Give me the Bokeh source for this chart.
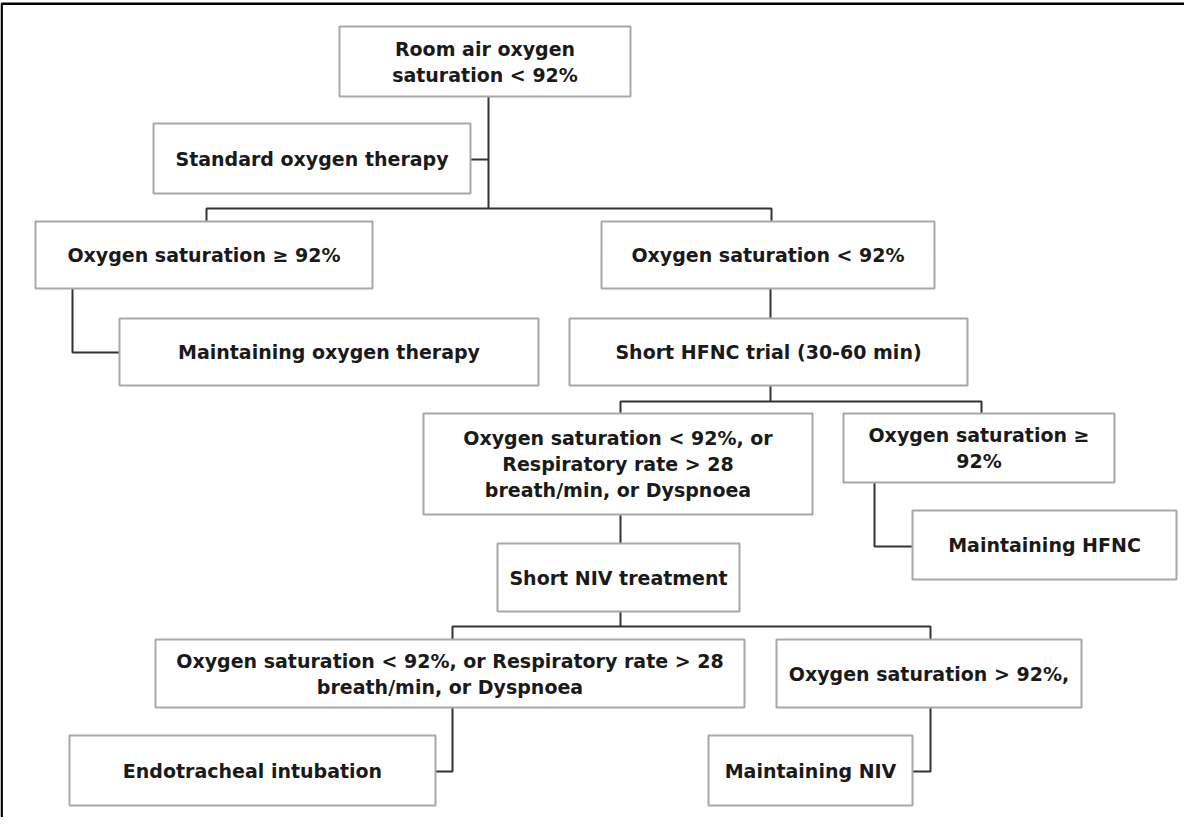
from bokeh.plotting import figure
from bokeh.models import Range1d, ColumnDataSource
from bokeh.core.properties import value
from bokeh.embed import file_html
from bokeh.resources import INLINE

# ---- data: flowchart nodes (label lines, box edges in picture pixels) ----
node_labels = [
    "Room air oxygen\nsaturation < 92%",
    "Standard oxygen therapy",
    "Oxygen saturation \u2265 92%",
    "Oxygen saturation < 92%",
    "Maintaining oxygen therapy",
    "Short HFNC trial (30-60 min)",
    "Oxygen saturation < 92%, or\nRespiratory rate > 28\nbreath/min, or Dyspnoea",
    "Oxygen saturation \u2265\n92%",
    "Maintaining HFNC",
    "Short NIV treatment",
    "Oxygen saturation < 92%, or Respiratory rate > 28\nbreath/min, or Dyspnoea",
    "Oxygen saturation > 92%,",
    "Endotracheal intubation",
    "Maintaining NIV",
]
node_left   = [347, 161, 43, 609, 127, 577, 431, 851, 920, 505, 163, 784, 77, 716]
node_right  = [638, 478, 380, 942, 546, 975, 820, 1122, 1184, 747, 752, 1089, 443, 920]
node_top    = [34, 131, 229, 229, 326, 326, 421, 421, 518, 551, 647, 647, 743, 743]
node_bottom = [104, 201, 296, 296, 393, 393, 522, 490, 587, 619, 715, 715, 813, 813]

# connectors as polylines (x list, y list)
conn_xs = [
    [496, 496], [478, 496],
    [214, 214, 779, 779],
    [80, 80, 127],
    [778, 778],
    [778, 778], [628, 628, 989, 989],
    [882, 882, 920],
    [628, 628],
    [628, 628], [460, 460, 938, 938],
    [460, 460, 443],
    [938, 938, 920],
]
conn_ys = [
    [104, 216], [167, 167],
    [229, 216, 216, 229],
    [296, 360, 360],
    [296, 326],
    [393, 409], [421, 409, 409, 421],
    [490, 554, 554],
    [522, 551],
    [619, 634], [647, 634, 634, 647],
    [715, 779, 779],
    [715, 779, 779],
]

# ---- build figure ----
W, H = 1184, 817
p = figure(width=W, height=H, x_range=Range1d(8, 8 + W), y_range=Range1d(8 + H, 8),
           output_backend="svg", toolbar_location=None, min_border=0)
p.axis.visible = False
p.grid.visible = False
p.outline_line_color = None
p.background_fill_color = "white"
p.border_fill_color = "white"

# outer frame (left and top edges)
p.line(x=[9.2, 9.2, 1200], y=[840, 11.2, 11.2], line_color="black", line_width=2.4)

# connectors
p.multi_line(xs=conn_xs, ys=conn_ys, line_color="#333333", line_width=2)

# boxes
cx = [(l + r) / 2 for l, r in zip(node_left, node_right)]
cy = [(t + b) / 2 for t, b in zip(node_top, node_bottom)]
bw = [r - l for l, r in zip(node_left, node_right)]
bh = [b - t for t, b in zip(node_top, node_bottom)]
p.rect(x=cx, y=cy, width=bw, height=bh, fill_color="white",
       line_color="#a8a8a8", line_width=2)

# text lines
LINE_H = 26
tx, ty, tt = [], [], []
for lab, x, y in zip(node_labels, cx, cy):
    lines = lab.split("\n")
    n = len(lines)
    for i, ln in enumerate(lines):
        tx.append(x)
        ty.append(y + (i - (n - 1) / 2) * LINE_H)
        tt.append(ln)
src = ColumnDataSource(dict(x=tx, y=ty, text=tt))
p.text(x="x", y="y", text="text", source=src, text_align="center",
       text_baseline="middle", text_font=value("DejaVu Sans"),
       text_font_style="bold", text_font_size="19px", text_color="#1a1a1a")

open("out.html", "w").write(file_html(p, INLINE))
